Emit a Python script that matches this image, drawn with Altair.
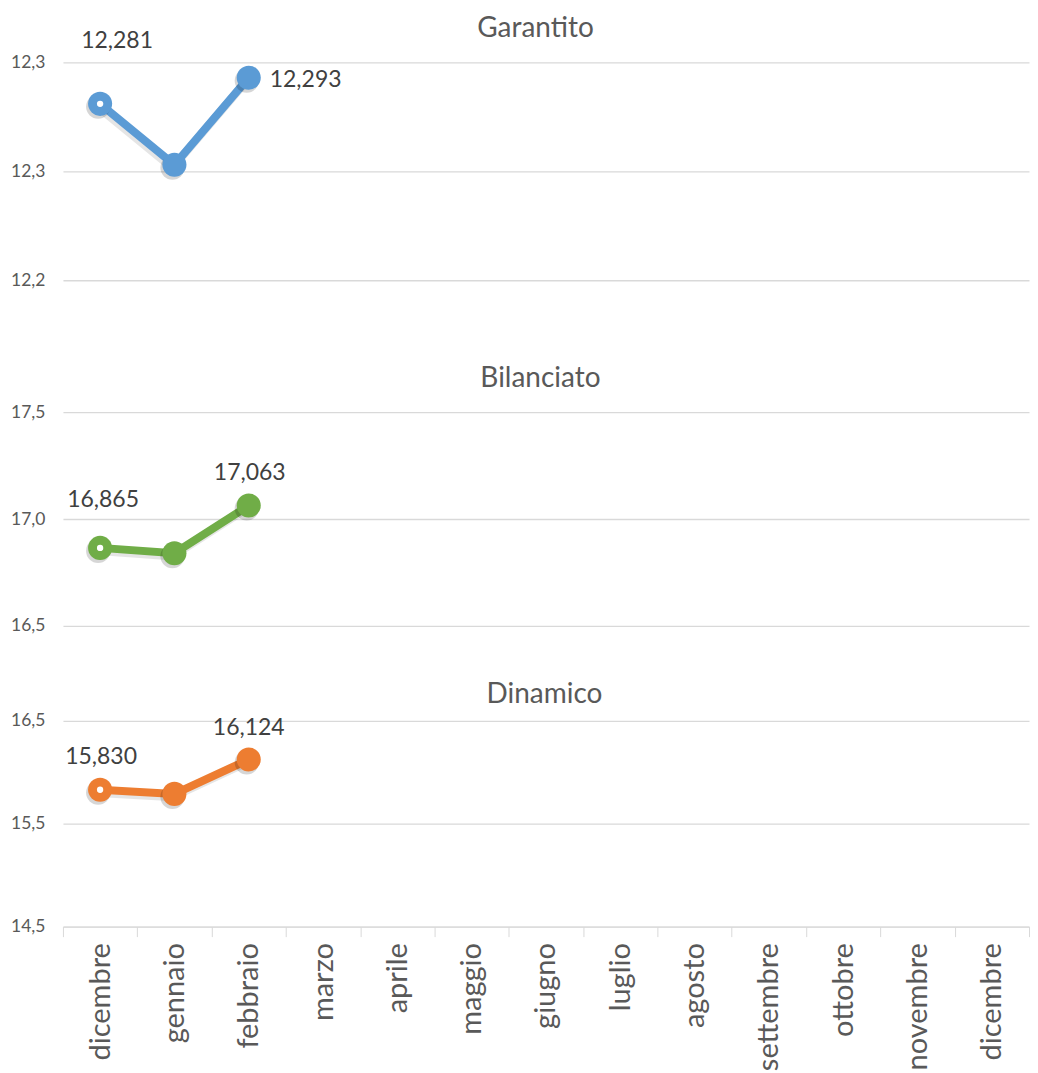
import altair as alt
import pandas as pd

months = ["dicembre", "gennaio", "febbraio", "marzo", "aprile", "maggio", "giugno",
          "luglio", "agosto", "settembre", "ottobre", "novembre", "dicembre"]
titles = ["Garantito", "Bilanciato", "Dinamico"]
garantito = [12.281, 12.253, 12.293]
bilanciato = [16.865, 16.840, 17.063]
dinamico = [15.830, 15.790, 16.124]
y_ticks_g = [12.2, 12.25, 12.3]
y_ticks_b = [16.5, 17.0, 17.5]
y_ticks_d = [14.5, 15.5, 16.5]
colors = ["#5B9BD5", "#70AD47", "#ED7D31"]

FONT = "Lato"
GRID = "#d9d9d9"
TXT = "#595959"
W = 967

month_js = "[" + ",".join("'" + m + "'" for m in months) + "]"


def panel(title, values, color, ticks, height, show_x, first_off, last_off, last_align,
          title_pad, title_shift):
    df = pd.DataFrame({"i": list(range(len(values))), "v": values})
    df["lab"] = [f"{v:.3f}".replace(".", ",") for v in values]
    xscale = alt.Scale(domain=list(range(len(months))), type="band",
                       paddingInner=0, paddingOuter=0)
    top_axis = alt.Axis(
        orient="top", labels=False, ticks=False, domain=False, grid=False, title=title,
        titleFont=FONT, titleFontSize=28, titleFontWeight="normal", titleColor=TXT,
        titlePadding=title_pad, titleX=W / 2 + title_shift, titleBaseline="bottom",
    )
    bottom_axis = alt.Axis(
        title=None, labelAngle=270, tickBand="extent", tickSize=10, tickColor=GRID,
        domainColor=GRID, labelPadding=6, grid=False, labelFont=FONT, labelFontSize=29,
        labelColor=TXT, labelExpr=month_js + "[datum.value]", labelAlign="right",
        labelBaseline="middle", labelLimit=300,
    )
    y = alt.Y("v:Q", scale=alt.Scale(domain=[ticks[0], ticks[-1]], zero=False, nice=False),
              axis=alt.Axis(values=ticks, title=None, grid=True, gridColor=GRID, gridWidth=1.3,
                            domain=False, ticks=False, labelFont=FONT, labelFontSize=17.5,
                            labelColor=TXT, labelPadding=18,
                            labelExpr="replace(format(datum.value, '.1f'), '.', ',')"))
    x_plain = alt.X("i:O", scale=xscale, axis=None)
    x_top = alt.X("i:O", scale=xscale, axis=top_axis)
    x_bottom = alt.X("i:O", scale=xscale, axis=bottom_axis if show_x else None)

    base = alt.Chart(df).encode(x=x_plain, y=y)
    line_sh = base.mark_line(color="#000", opacity=0.10, strokeWidth=8.5, xOffset=-2, yOffset=3)
    line = base.mark_line(color=color, strokeWidth=8).encode(x=x_top)
    pt_sh = base.mark_circle(size=580, color="#000", opacity=0.16, xOffset=-2, yOffset=3)
    pts = base.mark_circle(size=580, color=color, opacity=1).encode(x=x_bottom)
    dot = base.transform_filter("datum.i == 0").mark_circle(size=40, color="white", opacity=1)
    n = len(values) - 1
    lab1 = base.transform_filter("datum.i == 0").mark_text(
        font=FONT, fontSize=23, color="#404040", align="center", baseline="middle",
        dx=first_off[0], dy=first_off[1]).encode(text="lab:N")
    lab2 = base.transform_filter(f"datum.i == {n}").mark_text(
        font=FONT, fontSize=23, color="#404040", align=last_align, baseline="middle",
        dx=last_off[0], dy=last_off[1]).encode(text="lab:N")
    return alt.layer(line_sh, line, pt_sh, pts, dot, lab1, lab2).resolve_axis(
        x="independent").properties(width=W, height=height)


p1 = panel(titles[0], garantito, colors[0], y_ticks_g, 218, False, (17, -63), (21, 2), "left", 20, -11)
p2 = panel(titles[1], bilanciato, colors[1], y_ticks_b, 214, False, (3, -48), (1, -33), "center", 20, -6)
p3 = panel(titles[2], dinamico, colors[2], y_ticks_d, 206, True, (1, -33), (0, -32), "center", 12, -2)

inner = alt.vconcat(p2, p3, spacing=95, bounds="flush")
chart = alt.vconcat(p1, inner, spacing=132, bounds="flush").properties(
    padding={"left": 2, "top": 6, "right": 0, "bottom": 0}
).configure_view(stroke=None)

chart.save("out.html", embed_options={"renderer": "svg", "actions": False})
